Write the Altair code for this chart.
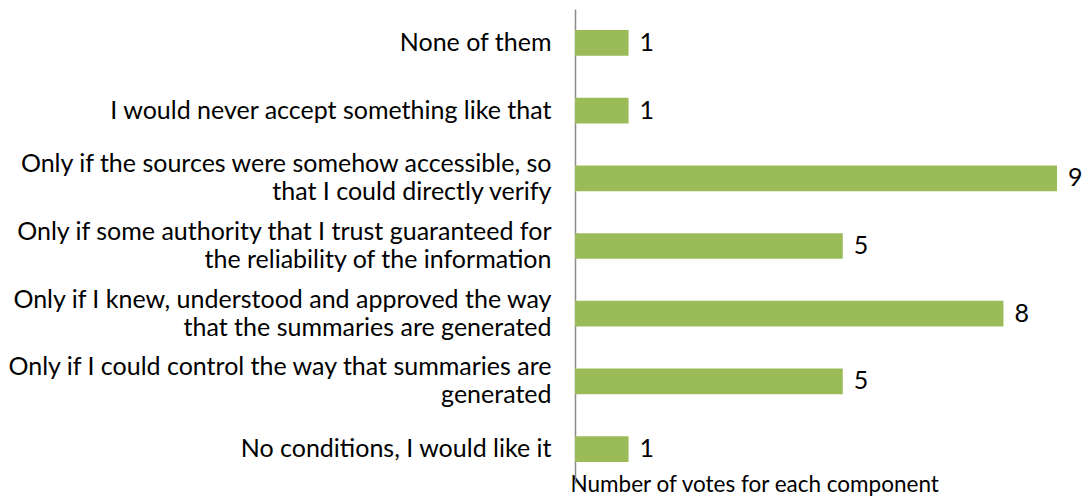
import altair as alt
import pandas as pd

categories = [
    "None of them",
    "I would never accept something like that",
    "Only if the sources were somehow accessible, so|that I could directly verify",
    "Only if some authority that I trust guaranteed for|the reliability of the information",
    "Only if I knew, understood and approved the way|that the summaries are generated",
    "Only if I could control the way that summaries are|generated",
    "No conditions, I would like it",
]
votes = [1, 1, 9, 5, 8, 5, 1]

df = pd.DataFrame({"category": categories, "votes": votes})

FONT = "Lato"
FS = 25

y = alt.Y(
    "category:N",
    sort=categories,
    scale=alt.Scale(paddingInner=0.62, paddingOuter=0.31),
    axis=alt.Axis(
        title=None,
        ticks=False,
        domainColor="#8c8c8c",
        domainWidth=1.5,
        labelFont=FONT,
        labelFontSize=FS,
        labelColor="#000000",
        labelPadding=24,
        labelLimit=600,
        labelLineHeight=28,
        labelExpr="split(datum.label, '|')",
        labelOffset={
            "condition": {"test": "indexof(datum.value, '|') >= 0", "value": -14},
            "value": 0,
        },
    ),
)

x = alt.X(
    "votes:Q",
    scale=alt.Scale(domain=[0, 9], nice=False, zero=True),
    axis=alt.Axis(
        title="Number of votes for each component",
        labels=False,
        ticks=False,
        domain=False,
        grid=False,
        titleFont=FONT,
        titleFontSize=22.5,
        titleFontWeight="normal",
        titleColor="#000000",
        titleAnchor="start",
        titleAlign="left",
        titleX=-5,
        titleY=8,
        titleBaseline="alphabetic",
    ),
)

bars = alt.Chart(df).mark_bar(color="#9BBB59").encode(x=x, y=y)

labels = alt.Chart(df).mark_text(
    align="left", baseline="middle", dx=11, font=FONT, fontSize=FS, color="#000000"
).encode(x="votes:Q", y=alt.Y("category:N", sort=categories), text="votes:Q")

chart = (
    (bars + labels)
    .properties(
        width=482,
        height=474,
        autosize=alt.AutoSizeParams(type="none"),
        padding={"left": 567, "top": 1, "right": 27, "bottom": 13},
    )
    .configure_view(stroke=None)
)

chart.save("out.html", embed_options={"renderer": "svg", "actions": False})
